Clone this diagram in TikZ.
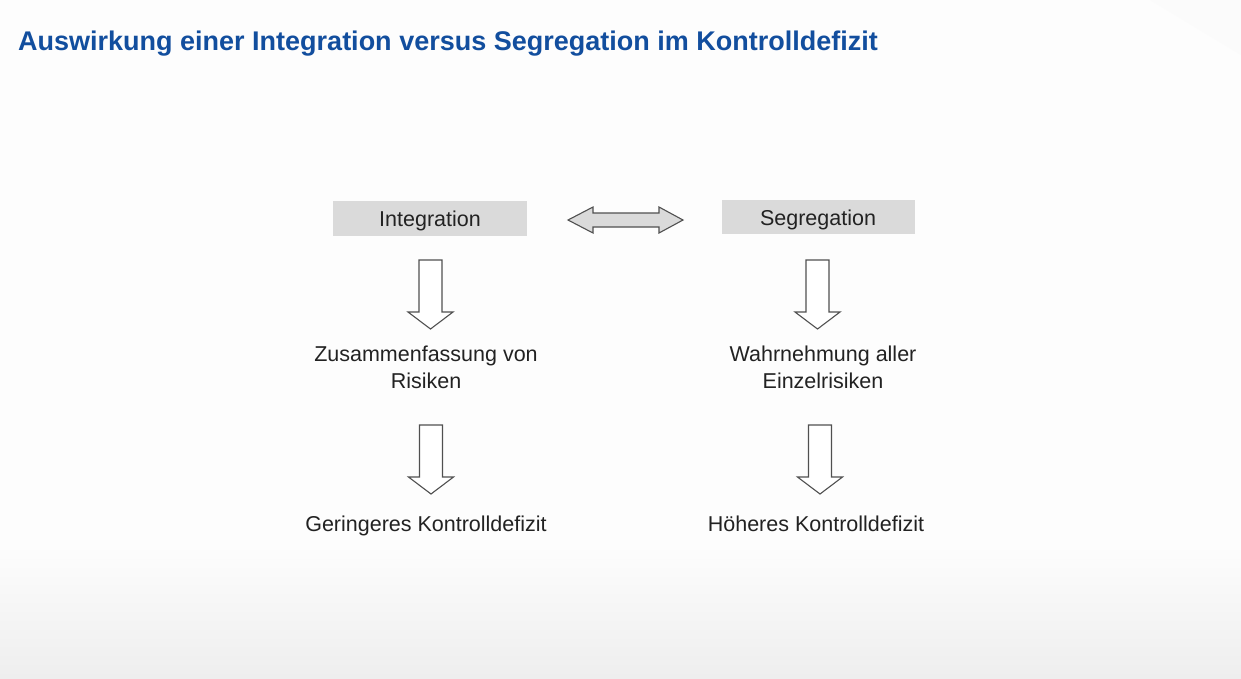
\documentclass[tikz,border=0pt]{standalone}
\usepackage{fontspec}
\setmainfont{Liberation Sans}
\definecolor{titleblue}{RGB}{18,78,158}
\definecolor{txt}{RGB}{34,34,34}
\definecolor{boxgrey}{RGB}{218,218,218}
\definecolor{edgegrey}{RGB}{80,80,80}
\definecolor{bgtop}{RGB}{253,253,253}
\definecolor{bgbot}{RGB}{238,238,238}
\tikzset{
  x=1pt, y=-1pt,
  titletext/.style={anchor=base west, inner sep=0pt, text=titleblue, font=\fontsize{27}{32}\selectfont\bfseries},
  bodytext/.style={anchor=base, inner sep=0pt, text=txt, align=center, font=\fontsize{21.5}{27}\selectfont},
  labelbox/.style={fill=boxgrey, inner sep=0pt},
  blockarrow/.style={draw=edgegrey, line width=1.1pt, line join=miter, fill=white},
  pics/downarrow/.style={code={
    \draw[blockarrow] (-11.5,0) -- (11.5,0) -- (11.5,52) -- (22.5,52) -- (0,69) -- (-22.5,52) -- (-11.5,52) -- cycle;
  }}
}
\begin{document}
\begin{tikzpicture}
\useasboundingbox (0,0) rectangle (1241,678);
% background
\fill[bgtop] (0,0) rectangle (1241,678);
\shade[top color=bgtop, bottom color=bgbot] (0,545) rectangle (1241,678);
\fill[black!1.5] (1150,0) -- (1241,0) -- (1241,55) -- cycle;
% title
\node[titletext] (title) at (18,50) {Auswirkung einer Integration versus Segregation im Kontrolldefizit};
% boxes
\fill[labelbox] (333,201) rectangle (527,236);
\fill[labelbox] (722,200) rectangle (915,234);
\node[bodytext] (integ) at (430,226) {Integration};
\node[bodytext] (segr) at (818,225) {Segregation};
% double arrow
\draw[blockarrow, fill=boxgrey] (568,220) -- (593,207) -- (593,213) -- (659,213) -- (659,207) -- (683,220) -- (659,233) -- (659,227) -- (593,227) -- (593,233) -- cycle;
% down arrows
\pic at (430.5,260) {downarrow};
\pic at (817.5,260) {downarrow};
\pic at (431,425) {downarrow};
\pic at (820,425) {downarrow};
% texts
\node[bodytext] (zus) at (426,388) {Zusammenfassung von\\Risiken};
\node[bodytext] (wahr) at (823,388) {Wahrnehmung aller\\Einzelrisiken};
\node[bodytext] (ger) at (426,531) {Geringeres Kontrolldefizit};
\node[bodytext] (hoe) at (816,531) {Höheres Kontrolldefizit};
\end{tikzpicture}
\end{document}
